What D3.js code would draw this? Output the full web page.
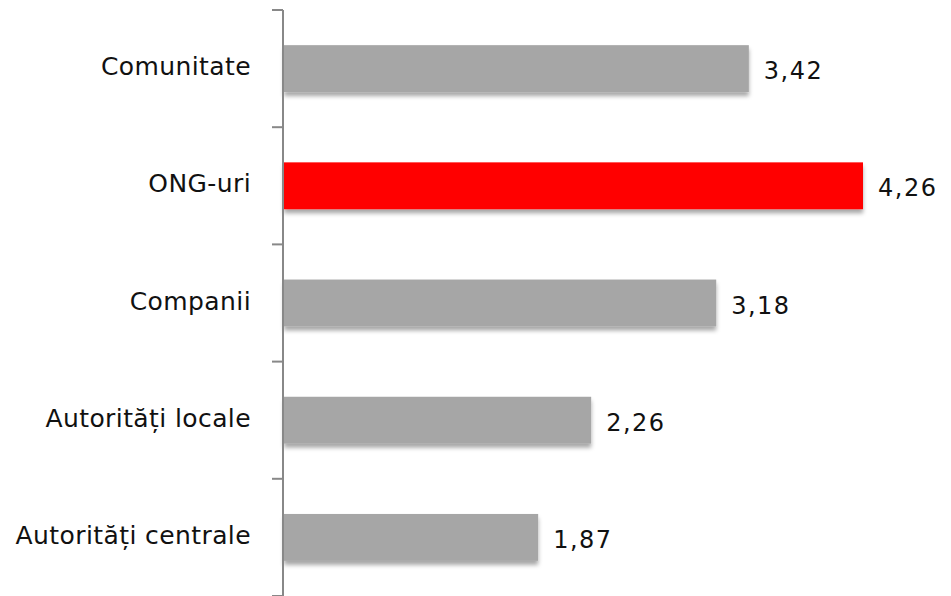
<!DOCTYPE html>
<html>
<head>
<meta charset="utf-8">
<script src="https://cdn.jsdelivr.net/npm/d3@7"></script>
<style>
  html, body { margin: 0; padding: 0; background: #fff; }
  svg { display: block; }
  text { font-family: "DejaVu Sans", "Open Sans", sans-serif; fill: #111; }
</style>
</head>
<body>
<svg id="chart" width="951" height="596"></svg>
<script>
// Scores by actor type (top to bottom)
const categories = ["Comunitate", "ONG-uri", "Companii", "Autorități locale", "Autorități centrale"];
const values = [3.42, 4.26, 3.18, 2.26, 1.87];
const highlight = ["ONG-uri"];

const svg = d3.select("#chart");
const x0 = 284, yTop = 10, yBottom = 596;

const x = d3.scaleLinear().domain([0, 4.26]).range([x0, 863]);
const y = d3.scaleBand().domain(categories).range([yTop, yBottom])
  .paddingInner(0.6).paddingOuter(0.3);

// soft shadow under each bar
const defs = svg.append("defs");
const f = defs.append("filter").attr("id", "shadow")
  .attr("x", "-5%").attr("y", "-20%").attr("width", "110%").attr("height", "160%");
f.append("feDropShadow").attr("dx", 0).attr("dy", 4).attr("stdDeviation", 2)
  .attr("flood-color", "#000").attr("flood-opacity", 0.35);

const fmt = v => d3.format(".2f")(v).replace(".", ",");

svg.append("g").selectAll("rect").data(categories).join("rect")
  .attr("x", x(0))
  .attr("y", d => y(d))
  .attr("width", (d, i) => x(values[i]) - x(0))
  .attr("height", y.bandwidth())
  .attr("fill", d => highlight.includes(d) ? "#ff0000" : "#a6a6a6")
  .attr("filter", "url(#shadow)");

// value labels
svg.append("g").selectAll("text").data(categories).join("text")
  .attr("x", (d, i) => x(values[i]) + 15)
  .attr("y", d => y(d) + y.bandwidth() / 2 + 10.5)
  .attr("font-size", 24)
  .attr("letter-spacing", 1.5)
  .text((d, i) => fmt(values[i]));

// category axis with boundary ticks
const axisX = 283;
const boundaries = d3.range(categories.length + 1).map(i => yTop + i * y.step());
const ax = svg.append("g");
ax.append("line")
  .attr("x1", axisX).attr("x2", axisX)
  .attr("y1", yTop).attr("y2", yBottom)
  .attr("stroke", "#888").attr("stroke-width", 2);
ax.selectAll("line.tick").data(boundaries).join("line")
  .attr("class", "tick")
  .attr("x1", axisX - 11).attr("x2", axisX)
  .attr("y1", d => d).attr("y2", d => d)
  .attr("stroke", "#888").attr("stroke-width", 2);
ax.selectAll("text").data(categories).join("text")
  .attr("x", 251)
  .attr("y", d => y(d) + y.bandwidth() / 2 + 6.5)
  .attr("text-anchor", "end")
  .attr("font-size", 25)
  .attr("letter-spacing", 0.4)
  .text(d => d);
</script>
</body>
</html>
